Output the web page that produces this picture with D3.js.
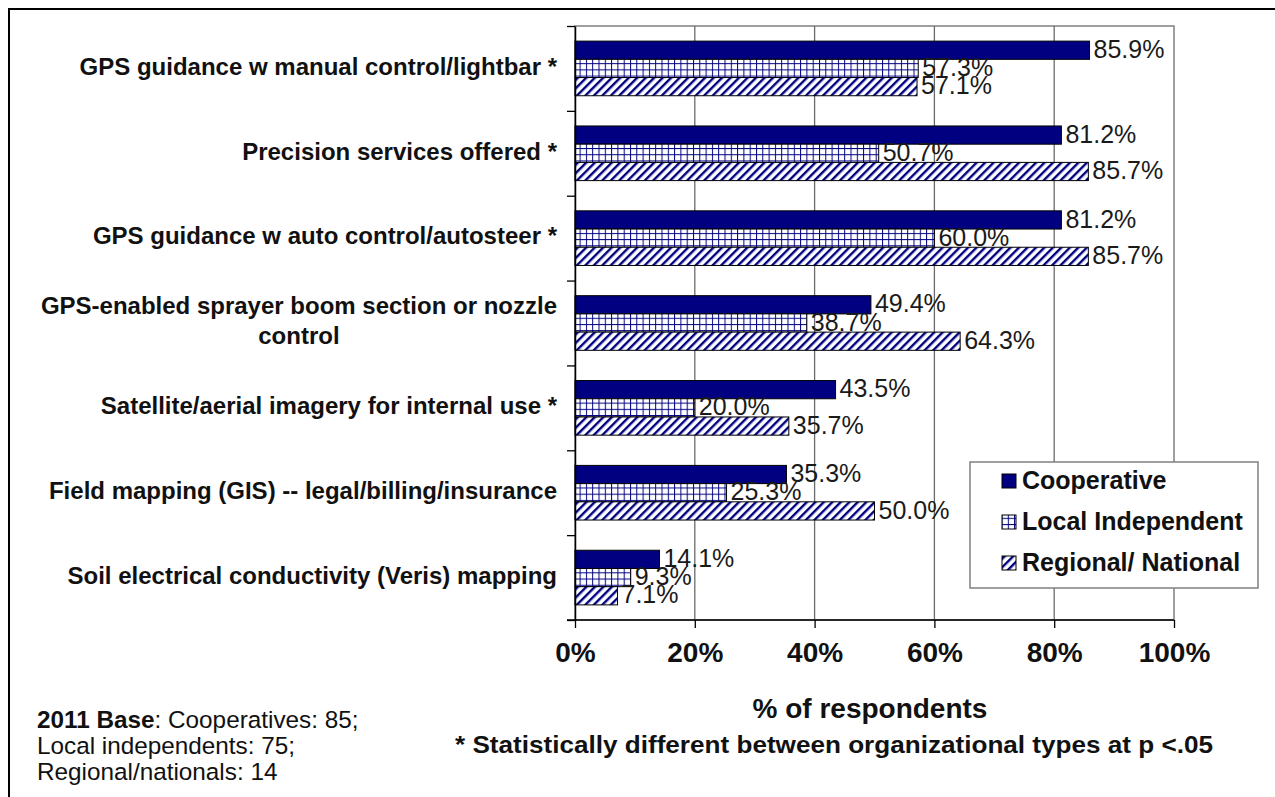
<!DOCTYPE html>
<html><head><meta charset="utf-8">
<script src="https://cdn.jsdelivr.net/npm/d3@7"></script>
<style>
html,body{margin:0;padding:0;background:#fff;overflow:hidden;}
text{font-family:"Liberation Sans",Arial,sans-serif;}
</style></head>
<body>
<svg id="chart" width="1275" height="797"></svg>
<script>
const categories = [
  "GPS guidance w manual control/lightbar *",
  "Precision services offered *",
  "GPS guidance w auto control/autosteer *",
  "GPS-enabled sprayer boom section or nozzle|control",
  "Satellite/aerial imagery for internal use *",
  "Field mapping (GIS) -- legal/billing/insurance",
  "Soil electrical conductivity (Veris) mapping"
];
const seriesNames = ["Cooperative", "Local Independent", "Regional/ National"];
const cooperative = [85.9, 81.2, 81.2, 49.4, 43.5, 35.3, 14.1];
const localIndependent = [57.3, 50.7, 60.0, 38.7, 20.0, 25.3, 9.3];
const regionalNational = [57.1, 85.7, 85.7, 64.3, 35.7, 50.0, 7.1];
const xTicks = [0, 20, 40, 60, 80, 100];
const xTitle = "% of respondents";
const noteText = "* Statistically different between organizational types at p <.05";
const baseLines = [["2011 Base", ": Cooperatives: 85;"], ["", "Local independents: 75;"], ["", "Regional/nationals: 14"]];

(function(){
const series = [cooperative, localIndependent, regionalNational];
const svg = d3.select("#chart");
const defs = svg.append("defs");
const navy = "#000080";

const pg = defs.append("pattern").attr("id","grid").attr("patternUnits","userSpaceOnUse")
  .attr("width",6.3).attr("height",6.2);
pg.append("rect").attr("width",6.3).attr("height",6.2).attr("fill","#fff");
pg.append("line").attr("x1",0.5).attr("x2",0.5).attr("y1",0).attr("y2",6.2).attr("stroke",navy).attr("stroke-width",1);
pg.append("line").attr("x1",0).attr("x2",6.3).attr("y1",0.5).attr("y2",0.5).attr("stroke",navy).attr("stroke-width",1);

const ph = defs.append("pattern").attr("id","hatch").attr("patternUnits","userSpaceOnUse")
  .attr("width",6).attr("height",6).attr("patternTransform","rotate(45)");
ph.append("rect").attr("width",6).attr("height",6).attr("fill","#fff");
ph.append("rect").attr("x",0).attr("y",0).attr("width",2.4).attr("height",6).attr("fill",navy);

const fills = [navy, "url(#grid)", "url(#hatch)"];

svg.append("rect").attr("x",9).attr("y",9).attr("width",1400).attr("height",900)
  .attr("fill","none").attr("stroke","#000").attr("stroke-width",2);

const pLeft = 575, pRight = 1174, pTop = 26, pBottom = 620;
const x = d3.scaleLinear().domain([0,100]).range([pLeft,pRight]);
const y = d3.scaleBand().domain(d3.range(categories.length)).range([pTop,pBottom]).padding(0);
const inner = d3.scaleBand().domain(d3.range(3)).range([0, y.bandwidth()]).paddingOuter(0.83).paddingInner(0);

svg.append("rect").attr("x",pLeft).attr("y",pTop).attr("width",pRight-pLeft).attr("height",pBottom-pTop)
  .attr("fill","#fff").attr("stroke","#808080").attr("stroke-width",1.5);

svg.append("g").selectAll("line").data(xTicks.filter(t=>t>0 && t<100)).join("line")
  .attr("x1",d=>x(d)).attr("x2",d=>x(d)).attr("y1",pTop).attr("y2",pBottom)
  .attr("stroke","#6b6b6b").attr("stroke-width",1.3);

const groups = svg.append("g").selectAll("g").data(categories).join("g")
  .attr("transform",(d,i)=>`translate(0,${y(i)})`);
groups.each(function(c,i){
  const g = d3.select(this);
  series.forEach((s,k)=>{
    g.append("rect").attr("x",x(0)).attr("y",inner(k)).attr("width",x(s[i])-x(0)).attr("height",inner.bandwidth())
      .attr("fill",fills[k]).attr("stroke","#000").attr("stroke-width",1);
  });
});
groups.each(function(c,i){
  const g = d3.select(this);
  series.forEach((s,k)=>{
    g.append("text").attr("x",x(s[i])+4).attr("y",inner(k)+inner.bandwidth()/2+1)
      .attr("dominant-baseline","middle").attr("font-size",25).attr("fill","#1a1a1a")
      .text(s[i].toFixed(1)+"%");
  });
});

const xAxis = d3.axisBottom(x).tickValues(xTicks).tickFormat(d=>d+"%").tickSize(8).tickSizeOuter(0);
const gx = svg.append("g").attr("transform",`translate(0,${pBottom})`).call(xAxis);
gx.select(".domain").attr("d",`M${pLeft-8},0H${pRight}`).attr("stroke","#000").attr("stroke-width",1.5);
gx.selectAll(".tick line").attr("stroke","#000").attr("stroke-width",1.3);
gx.selectAll(".tick text").attr("font-size",28).attr("font-weight","bold").attr("fill","#111")
  .attr("font-family","'Liberation Sans',Arial,sans-serif").attr("dy","1.1em");

const yAxis = d3.axisLeft(d3.scaleLinear().domain([0,categories.length]).range([pTop,pBottom]))
  .tickValues(d3.range(categories.length+1)).tickFormat("").tickSize(8).tickSizeOuter(0);
const gy = svg.append("g").attr("transform",`translate(${pLeft},0)`).call(yAxis);
gy.select(".domain").attr("stroke","#000").attr("stroke-width",1.5);
gy.selectAll(".tick line").attr("stroke","#000").attr("stroke-width",1.3);

groups.each(function(c,i){
  const g = d3.select(this);
  const lines = c.split("|");
  const cy = y.bandwidth()/2;
  const lh = 30;
  const texts = lines.map((l,j)=> g.append("text").attr("y", cy + (j-(lines.length-1)/2)*lh)
    .attr("dominant-baseline","middle").attr("font-size",24).attr("font-weight","bold").attr("fill","#111").text(l));
  const maxW = d3.max(texts.map(tx=>tx.node().getComputedTextLength()));
  texts.forEach(tx=>{ tx.attr("x", 557 - maxW/2).attr("text-anchor","middle"); });
});

svg.append("text").attr("x",870).attr("y",711).attr("text-anchor","middle").attr("dominant-baseline","middle")
  .attr("font-size",28).attr("font-weight","bold").attr("fill","#111").text(xTitle);
svg.append("text").attr("x",834).attr("y",747).attr("text-anchor","middle").attr("dominant-baseline","middle")
  .attr("font-size",24).attr("font-weight","bold").attr("fill","#111")
  .attr("textLength",758).attr("lengthAdjust","spacingAndGlyphs").text(noteText);

baseLines.forEach((l,j)=>{
  const t = svg.append("text").attr("x",37).attr("y",722+j*26).attr("dominant-baseline","middle")
    .attr("font-size",24.3).attr("fill","#111");
  if(l[0]) t.append("tspan").attr("font-weight","bold").text(l[0]);
  t.append("tspan").text(l[1]);
});

const lg = svg.append("g").attr("transform","translate(970,462)");
lg.append("rect").attr("width",288).attr("height",126).attr("fill","#fff").attr("stroke","#808080").attr("stroke-width",1.5);
seriesNames.forEach((n,k)=>{
  const cy = 19 + k*41;
  lg.append("rect").attr("x",32).attr("y",cy-7).attr("width",14).attr("height",14)
    .attr("fill",fills[k]).attr("stroke","#000").attr("stroke-width",1);
  lg.append("text").attr("x",52).attr("y",cy+1).attr("dominant-baseline","middle")
    .attr("font-size",25).attr("font-weight","bold").attr("fill","#111").text(n);
});
})();
</script>
</body></html>
